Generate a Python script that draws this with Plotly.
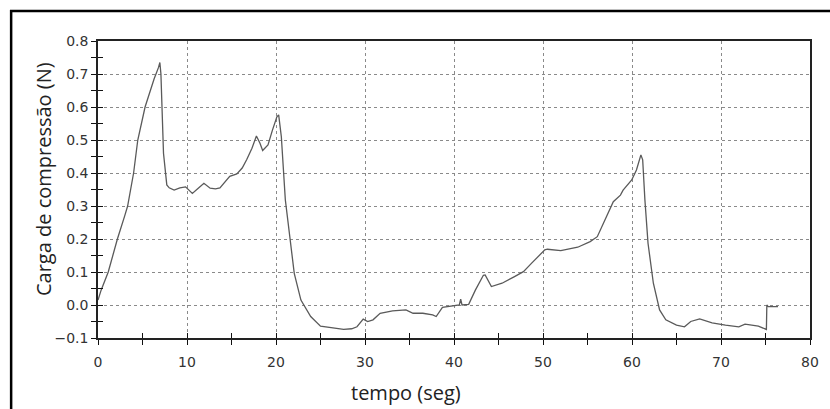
import plotly.graph_objects as go

tempo = [0, 0.35, 1.15, 2.18, 3.0, 3.33, 4.0, 4.47, 5.29, 5.8, 6.3, 6.8, 6.95,
         7.07, 7.36, 7.73, 8.0, 8.55, 9.2, 9.84, 10.2, 10.6, 11.2, 11.9, 12.6, 13.2,
         13.7, 14.2, 14.8, 15.6, 16.2, 16.7, 17.3, 17.8, 18.2, 18.5, 19.1, 19.6, 20.1,
         20.3, 20.6, 21.05, 21.5, 22.05, 22.8, 23.9, 25.0, 26.5, 27.6, 28.5, 29.1,
         29.8, 30.3, 30.9, 31.7, 33.1, 34.6, 35.4, 36.5, 37.6, 38.0, 38.7, 39.8,
         40.6, 40.75, 40.9, 41.65, 42.4, 43.3, 43.5, 44.2, 45.4, 46.8, 47.8, 48.7,
         50.2, 50.5, 52.0, 53.9, 55.3, 56.1, 56.8, 57.9, 58.7, 59.0, 59.97, 60.5,
         61.0, 61.2, 61.45, 61.8, 62.4, 63.1, 63.8, 65.0, 65.9, 66.6, 67.6, 69.0,
         70.5, 72.0, 72.7, 74.2, 75.1, 75.15, 75.3, 75.9, 76.4]
carga = [0.015, 0.045, 0.1, 0.2, 0.27, 0.3, 0.4, 0.5, 0.6, 0.645, 0.685, 0.72, 0.735,
         0.70, 0.46, 0.364, 0.355, 0.348, 0.355, 0.358, 0.348, 0.338, 0.352, 0.369,
         0.354, 0.352, 0.355, 0.37, 0.39, 0.397, 0.415, 0.44, 0.475, 0.512, 0.49,
         0.468, 0.485, 0.53, 0.57, 0.576, 0.51, 0.318, 0.217, 0.096, 0.015, -0.035,
         -0.064, -0.071, -0.074, -0.072, -0.066, -0.043, -0.05, -0.045, -0.025,
         -0.018, -0.015, -0.025, -0.025, -0.03, -0.035, -0.007, -0.003, 0.0, 0.018,
         0.0, 0.002, 0.045, 0.09, 0.091, 0.056, 0.066, 0.086, 0.101, 0.126, 0.167,
         0.169, 0.165, 0.175, 0.192, 0.207, 0.248, 0.313, 0.333, 0.348, 0.379, 0.409,
         0.455, 0.44, 0.318, 0.187, 0.066, -0.015, -0.045, -0.061, -0.066, -0.05,
         -0.042, -0.054, -0.061, -0.066, -0.058, -0.064, -0.074, 0.0, -0.005,
         -0.005, -0.005]

x_title = "tempo (seg)"
y_title = "Carga de compressão (N)"

fig = go.Figure()
fig.add_trace(go.Scatter(x=tempo, y=carga, mode="lines",
                         line=dict(color="#5a5a5a", width=1.3), showlegend=False))
fig.add_trace(go.Scatter(x=tempo, y=carga, mode="lines", xaxis="x2", yaxis="y2",
                         line=dict(color="rgba(0,0,0,0)", width=0), showlegend=False,
                         hoverinfo="skip"))

tickfont = dict(family="DejaVu Sans", size=14, color="#333333")
grid = dict(showgrid=True, gridcolor="#8a8a8a", gridwidth=1, griddash="3px,3px")

fig.update_layout(
    width=830, height=409,
    margin=dict(l=98, r=11, t=41, b=71),
    paper_bgcolor="white", plot_bgcolor="white",
    xaxis=dict(range=[0, 80], dtick=10, tick0=0, ticks="outside", ticklen=5,
               tickwidth=1.2, tickcolor="#111", showline=True, linecolor="#222",
               linewidth=1.5, mirror=True, zeroline=False, tickfont=tickfont,
               ticklabelstandoff=5,
               minor=dict(dtick=5, ticks="outside", ticklen=5, tickwidth=1.2,
                          tickcolor="#111", showgrid=False),
               **grid),
    yaxis=dict(range=[-0.1, 0.8], dtick=0.1, tick0=0, tickformat=".1f",
               ticks="outside", ticklen=5, tickwidth=1.2, tickcolor="#111",
               showline=True, linecolor="#222", linewidth=1.5, mirror=True,
               zeroline=False, tickfont=tickfont, ticklabelstandoff=0,
               minor=dict(dtick=0.05, ticks="outside", ticklen=5, tickwidth=1.2,
                          tickcolor="#111", showgrid=False),
               **grid),
    xaxis2=dict(overlaying="x", matches="x", range=[0, 80], dtick=10, tick0=0,
                ticks="inside", ticklen=5, tickwidth=1.2, tickcolor="#111",
                showticklabels=False, showgrid=False, showline=False, zeroline=False,
                minor=dict(dtick=5, ticks="inside", ticklen=5, tickwidth=1.2,
                           tickcolor="#111")),
    yaxis2=dict(overlaying="y", matches="y", range=[-0.1, 0.8], dtick=0.1, tick0=0,
                ticks="inside", ticklen=5, tickwidth=1.2, tickcolor="#111",
                showticklabels=False, showgrid=False, showline=False, zeroline=False,
                minor=dict(dtick=0.05, ticks="inside", ticklen=5, tickwidth=1.2,
                           tickcolor="#111")),
    annotations=[
        dict(text=x_title, xref="paper", yref="paper", x=0.433, y=-0.185,
             showarrow=False, xanchor="center", yanchor="middle",
             font=dict(family="Open Sans", size=20, color="#222")),
        dict(text=y_title, xref="paper", yref="paper", x=-0.0763, y=0.534,
             showarrow=False, xanchor="center", yanchor="middle", textangle=-90,
             font=dict(family="Open Sans", size=20, color="#222")),
    ],
    shapes=[
        dict(type="rect", xref="paper", yref="paper",
             x0=-0.1220, x1=1.03, y0=-0.26, y1=1.101,
             line=dict(color="black", width=2.5), fillcolor="rgba(0,0,0,0)",
             layer="above"),
    ],
)

fig.write_html("out.html")
